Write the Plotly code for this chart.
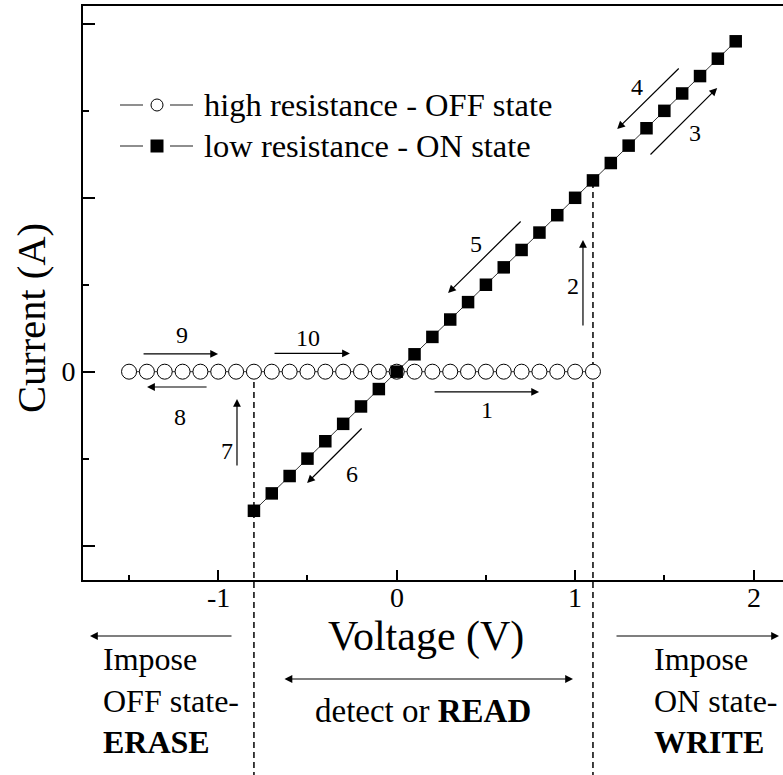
import plotly.graph_objects as go

# ---------------- data ----------------
off_voltage = [-1.5, -1.4, -1.3, -1.2, -1.1, -1.0, -0.9, -0.8, -0.7, -0.6, -0.5, -0.4, -0.3,
               -0.2, -0.1, 0.0, 0.1, 0.2, 0.3, 0.4, 0.5, 0.6, 0.7, 0.8, 0.9, 1.0, 1.1]
off_current = [0.0] * len(off_voltage)

on_voltage = [-0.8, -0.7, -0.6, -0.5, -0.4, -0.3, -0.2, -0.1, 0.0, 0.1, 0.2, 0.3, 0.4, 0.5,
              0.6, 0.7, 0.8, 0.9, 1.0, 1.1, 1.2, 1.3, 1.4, 1.5, 1.6, 1.7, 1.8, 1.9]
on_current = [-1.6, -1.4, -1.2, -1.0, -0.8, -0.6, -0.4, -0.2, 0.0, 0.2, 0.4, 0.6, 0.8, 1.0,
              1.2, 1.4, 1.6, 1.8, 2.0, 2.2, 2.4, 2.6, 2.8, 3.0, 3.2, 3.4, 3.6, 3.8]

series_names = ["high resistance - OFF state", "low resistance - ON state"]

x_tick_vals = [-1, 0, 1, 2]
x_tick_text = ["-1", "0", "1", "2"]
y_tick_vals = [-2, 0, 2, 4]
y_tick_text = ["", "0", "", ""]

switch_off_voltage = -0.8   # erase threshold
switch_on_voltage = 1.1     # write threshold

# ---------------- layout constants ----------------
X_RANGE = [-1.758, 2.165]
Y_RANGE = [-2.396, 4.206]
FONT = "Liberation Serif, Times New Roman, serif"
L, T, W, H = 83, 6, 700, 574   # plot area in pixels


def xpaper(v):
    return (v - X_RANGE[0]) / (X_RANGE[1] - X_RANGE[0])


def ypaper(i):
    return (i - Y_RANGE[0]) / (Y_RANGE[1] - Y_RANGE[0])


def pxx(p):
    return (p - L) / W


def pxy(p):
    return (T + H - p) / H


fig = go.Figure()
fig.add_trace(go.Scatter(
    x=off_voltage, y=off_current, mode="lines+markers", name=series_names[0], showlegend=False,
    line=dict(color="#333", width=1),
    marker=dict(symbol="circle", size=15, color="white", line=dict(color="black", width=1)),
))
fig.add_trace(go.Scatter(
    x=on_voltage, y=on_current, mode="lines+markers", name=series_names[1], showlegend=False,
    line=dict(color="#333", width=1),
    marker=dict(symbol="square", size=12.5, color="black", line=dict(color="black", width=0)),
))

# dashed threshold lines
for v, i_top in [(switch_off_voltage, 0.0), (switch_on_voltage, 2.2)]:
    fig.add_shape(type="line", xref="paper", yref="paper",
                  x0=xpaper(v), x1=xpaper(v), y0=-0.345, y1=ypaper(i_top),
                  line=dict(color="black", width=1.5, dash="6px,4px"), layer="below")

# manual legend
legend_rows = [(105, "circle"), (146, "square")]
for (ypix, sym), name in zip(legend_rows, series_names):
    for a, b in [(120, 143), (170, 193)]:
        fig.add_shape(type="line", xref="paper", yref="paper", x0=pxx(a), x1=pxx(b),
                      y0=pxy(ypix), y1=pxy(ypix), line=dict(color="#444", width=1.2))
    if sym == "circle":
        fig.add_shape(type="circle", xref="paper", yref="paper", xsizemode="pixel",
                      ysizemode="pixel", xanchor=pxx(157), yanchor=pxy(ypix),
                      x0=-6, x1=6, y0=-6, y1=6, fillcolor="white",
                      line=dict(color="black", width=1))
    else:
        fig.add_shape(type="rect", xref="paper", yref="paper", xsizemode="pixel",
                      ysizemode="pixel", xanchor=pxx(157), yanchor=pxy(ypix),
                      x0=-6.5, x1=6.5, y0=-6.5, y1=6.5, fillcolor="black",
                      line=dict(color="black", width=0))

annotations = []
for (ypix, _), name in zip(legend_rows, series_names):
    annotations.append(dict(x=pxx(202), y=pxy(ypix), xref="paper", yref="paper",
                            xanchor="left", yanchor="middle", showarrow=False, text=name,
                            font=dict(family=FONT, size=32.5, color="black")))

# arrows inside plot: (head V, head I, tail V, tail I)
data_arrows = [
    (-1.001, 0.204, -1.427, 0.204),   # 9
    (-0.262, 0.21, -0.693, 0.21),     # 10
    (-1.399, -0.176, -1.057, -0.176),  # 8
    (-0.895, -0.314, -0.895, -1.096),  # 7
    (-0.502, -1.28, -0.188, -0.636),  # 6
    (0.798, -0.233, 0.204, -0.233),   # 1
    (1.044, 1.515, 1.044, 0.514),     # 2
    (0.288, 0.905, 0.703, 1.745),     # 5
    (1.236, 2.79, 1.589, 3.504),      # 4
    (1.796, 3.263, 1.414, 2.481),     # 3
]
for hx, hy, tx, ty in data_arrows:
    annotations.append(dict(x=hx, y=hy, ax=tx, ay=ty, xref="x", yref="y", axref="x", ayref="y",
                            text="", showarrow=True, arrowhead=2, arrowsize=1.3, arrowwidth=1.2,
                            arrowcolor="black", standoff=0, startstandoff=0))

labels = [("9", -1.203, 0.422), ("10", -0.497, 0.387), ("8", -1.214, -0.525), ("7", -0.951, -0.912),
          ("6", -0.25, -1.176), ("1", 0.506, -0.44), ("2", 0.988, 0.986), ("5", 0.445, 1.469),
          ("4", 1.347, 3.275), ("3", 1.673, 2.745)]
for t, x, y in labels:
    annotations.append(dict(x=x, y=y, xref="x", yref="y", text=t, showarrow=False,
                            xanchor="center", yanchor="middle",
                            font=dict(family=FONT, size=24, color="black")))

# x tick labels
for v, t in zip(x_tick_vals, x_tick_text):
    annotations.append(dict(x=v, y=pxy(597), xref="x", yref="paper", text=t, showarrow=False,
                            xanchor="center", yanchor="middle",
                            font=dict(family=FONT, size=28, color="black")))

# arrows below the axis (paper head, pixel offsets for tail)
arrow_style = dict(text="", showarrow=True, arrowhead=2, arrowsize=1.3, arrowwidth=1.2,
                   arrowcolor="black", standoff=0, startstandoff=0, xref="paper", yref="paper")
annotations.append(dict(x=pxx(90), y=pxy(636), ax=143, ay=0, **arrow_style))
annotations.append(dict(x=pxx(779), y=pxy(636), ax=-164, ay=0, **arrow_style))
annotations.append(dict(x=pxx(573), y=pxy(679), ax=-290, ay=0, arrowside="end+start",
                        **arrow_style))

# region texts
annotations.append(dict(x=pxx(101), y=pxy(700), xref="paper", yref="paper", xanchor="left",
                        yanchor="middle", align="left", showarrow=False,
                        text="Impose<br>OFF state-<br><b>ERASE</b>",
                        font=dict(family=FONT, size=32, color="black")))
annotations.append(dict(x=pxx(652), y=pxy(700), xref="paper", yref="paper", xanchor="left",
                        yanchor="middle", align="left", showarrow=False,
                        text="Impose<br>ON state-<br><b>WRITE</b>",
                        font=dict(family=FONT, size=32, color="black")))
annotations.append(dict(x=pxx(423), y=pxy(711), xref="paper", yref="paper", showarrow=False,
                        xanchor="center", yanchor="middle",
                        text="detect or <b>READ</b>",
                        font=dict(family=FONT, size=33, color="black")))

# axis titles
annotations.append(dict(x=pxx(426), y=pxy(636), xref="paper", yref="paper", showarrow=False,
                        xanchor="center", yanchor="middle",
                        text="Voltage (V)", font=dict(family=FONT, size=42, color="black")))
annotations.append(dict(x=pxx(31), y=pxy(318), xref="paper", yref="paper", showarrow=False,
                        xanchor="center", yanchor="middle",
                        text="Current (A)", textangle=-90,
                        font=dict(family=FONT, size=40.5, color="black")))

fig.update_layout(
    width=783, height=775,
    margin=dict(l=L, r=0, t=T, b=775 - T - H),
    paper_bgcolor="white", plot_bgcolor="white",
    font=dict(family=FONT, color="black"),
    annotations=annotations,
    showlegend=False,
    xaxis=dict(range=X_RANGE, showgrid=False, zeroline=False, showline=True, linewidth=2,
               linecolor="black", mirror=True, ticks="inside", ticklen=10, tickwidth=2,
               tickcolor="black", tickvals=x_tick_vals, showticklabels=False,
               minor=dict(dtick=0.5, tick0=0.5, ticks="inside", ticklen=5, tickwidth=2,
                          tickcolor="black", showgrid=False)),
    yaxis=dict(range=Y_RANGE, showgrid=False, zeroline=False, showline=True, linewidth=2,
               linecolor="black", mirror=False, ticks="inside", ticklen=12, tickwidth=2,
               tickcolor="black", tickvals=y_tick_vals, ticktext=y_tick_text,
               tickfont=dict(family=FONT, size=28, color="black"),
               minor=dict(dtick=1, tick0=1, ticks="inside", ticklen=6, tickwidth=2,
                          tickcolor="black", showgrid=False)),
)

fig.write_html("out.html")
